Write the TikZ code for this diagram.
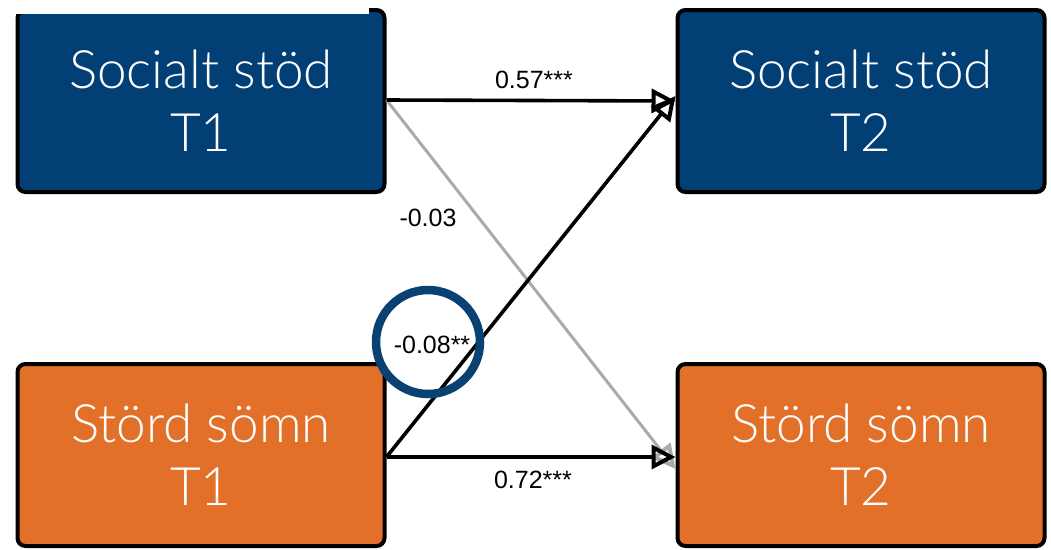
\documentclass[tikz,border=0pt]{standalone}
\usepackage{fontspec}
\setmainfont{Liberation Sans}
\IfFontExistsTF{Lato Light}{\newfontfamily\boxfont{Lato Light}}{\newfontfamily\boxfont{Liberation Sans}}
\usetikzlibrary{arrows.meta}
\definecolor{boxblue}{RGB}{1,63,117}
\definecolor{boxorange}{RGB}{226,112,41}
\definecolor{ringblue}{RGB}{10,65,115}
\definecolor{linegray}{RGB}{170,170,170}
\tikzset{
  varbox/.style={draw=black, line width=4pt, rounded corners=8pt, minimum width=367pt, minimum height=182pt, inner sep=0pt,
    text=white, align=center, font=\boxfont\fontsize{53}{63}\selectfont},
  bluebox/.style={varbox, fill=boxblue},
  orangebox/.style={varbox, fill=boxorange},
  tipstyle/.tip={Triangle[open, length=24pt, width=24pt, line width=4pt]},
  arrowpath/.style={draw=black, line width=3.6pt, -tipstyle},
  grpath/.style={arrowpath, draw=linegray, line width=3pt},
  coef/.style={font=\fontsize{25}{29}\selectfont, text=black, inner sep=0pt}
}
\begin{document}
\begin{tikzpicture}[x=1pt,y=-1pt]
\useasboundingbox (0,0) rectangle (1051,549);
\fill[white] (0,0) rectangle (1051,549);
\node[bluebox] (st1) at (201,101) {Socialt stöd\\T1};
\node[bluebox] (st2) at (861,101) {Socialt stöd\\T2};
\node[orangebox] (ss1) at (201,455) {Störd sömn\\T1};
\node[orangebox] (ss2) at (861,455) {Störd sömn\\T2};
\fill[white] (0,0) rectangle (369,14);
\draw[grpath] ([yshift=1pt]st1.east) -- ([yshift=-14pt]ss2.west);
\draw[arrowpath] ([yshift=1pt]st1.east) -- (st2.west);
\draw[arrowpath] ([yshift=-2pt]ss1.east) -- ([yshift=5pt]st2.west);
\draw[arrowpath] ([yshift=-2pt]ss1.east) -- ([yshift=-2pt]ss2.west);
\node[coef] (c1) at (534,80) {0.57***};
\node[coef] (c2) at (428,218) {-0.03};
\node[coef] (c3) at (432,345) {-0.08**};
\node[coef] (c4) at (533,480) {0.72***};
\draw[ringblue, line width=8.5pt] (428,342) circle (52);
\end{tikzpicture}
\end{document}
